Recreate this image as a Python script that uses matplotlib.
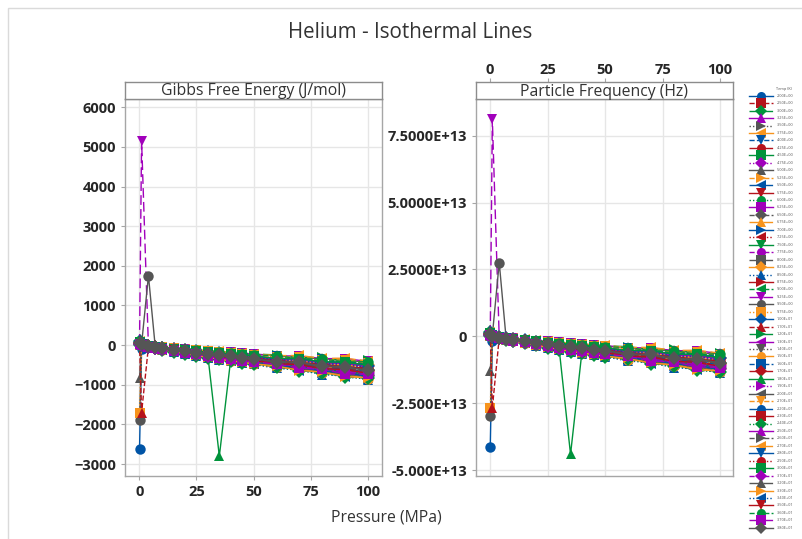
"""
Helium isothermal lines: Gibbs free energy and particle frequency vs pressure,
one line per temperature, two side-by-side panels with a shared x label.
"""

import matplotlib

matplotlib.use("Agg")
import matplotlib.pyplot as plt
from matplotlib.patches import Rectangle

plt.rcParams["font.family"] = ["Open Sans", "DejaVu Sans"]

W, H = 803, 539

# --------------------------------------------------------------------------- #
# Data
# --------------------------------------------------------------------------- #
PRESSURE = [0.1, 1, 4, 7, 10, 15, 20, 25, 30, 35, 40, 45, 50, 60, 70, 80, 90, 100]

TEMPS = [2.0, 2.5, 3.0, 3.25, 3.5, 3.75, 4.0, 4.25, 4.5, 4.75, 5.0, 5.25, 5.5,
         5.75, 6.0, 6.25, 6.5, 6.75, 7.0, 7.25, 7.5, 7.75, 8.0, 8.25, 8.5, 8.75,
         9.0, 9.25, 9.5, 9.75, 10.0, 11.0, 12.0, 13.0, 14.0, 15.0, 16.0, 17.0,
         18.0, 19.0, 20.0, 21.0, 22.0, 23.0, 24.0, 25.0, 26.0, 27.0, 28.0, 29.0,
         30.0, 31.0, 32.0, 33.0, 34.0, 35.0, 36.0, 37.0, 38.0]

# Gibbs free energy (J/mol), one row per temperature, columns follow PRESSURE
GIBBS = [
    [-2620, -100, -30, -60, -85, -130, -160, -210, -240, -280, -305, -350, -365, -440, -470, -570, -590, -680],
    [45, 20, -30, -55, -85, -120, -165, -195, -240, -265, -310, -325, -370, -380, -500, -500, -620, -610],
    [110, 35, -25, -55, -75, -115, -150, -190, -215, -255, -280, -320, -330, -420, -415, -530, -520, -630],
    [30, 10, -40, -65, -95, -140, -175, -225, -265, -300, -345, -370, -410, -430, -565, -560, -700, -670],
    [60, 25, -25, -50, -70, -100, -140, -165, -205, -225, -260, -280, -310, -375, -370, -490, -465, -580],
    [20, 5, -40, -75, -105, -155, -200, -255, -295, -345, -380, -425, -450, -500, -620, -650, -770, -780],
    [80, 30, -20, -45, -60, -95, -115, -150, -170, -200, -220, -250, -260, -330, -330, -410, -420, -490],
    [35, 15, -35, -60, -90, -130, -175, -210, -260, -285, -330, -355, -395, -465, -500, -590, -615, -700],
    [55, 20, -30, -50, -75, -110, -145, -180, -215, -240, -275, -300, -330, -360, -450, -470, -560, -565],
    [25, 10, -40, -70, -100, -145, -190, -235, -285, -315, -360, -395, -425, -525, -530, -665, -670, -780],
    [-830, 30, -20, -40, -55, -80, -105, -130, -155, -175, -200, -215, -240, -255, -330, -330, -410, -405],
    [50, 20, -30, -55, -80, -120, -160, -195, -230, -265, -295, -330, -350, -430, -445, -550, -555, -660],
    [15, 0, -45, -75, -110, -160, -215, -260, -315, -355, -400, -440, -475, -530, -650, -680, -810, -820],
    [70, 25, -25, -45, -65, -100, -125, -160, -185, -215, -240, -265, -285, -355, -360, -450, -450, -540],
    [40, 15, -35, -60, -90, -135, -175, -215, -255, -295, -330, -360, -390, -435, -540, -560, -670, -670],
    [90, 35, -15, -35, -50, -75, -100, -120, -145, -165, -185, -205, -220, -270, -275, -340, -340, -410],
    [25, 10, -35, -65, -95, -140, -185, -230, -270, -310, -345, -385, -415, -500, -525, -640, -660, -760],
    [60, 20, -30, -50, -75, -105, -140, -175, -205, -235, -265, -290, -315, -345, -435, -445, -535, -545],
    [20, 5, -40, -75, -105, -155, -205, -255, -300, -345, -385, -425, -460, -555, -585, -705, -730, -845],
    [50, 20, -30, -55, -80, -115, -155, -190, -225, -255, -290, -315, -340, -380, -470, -485, -580, -590],
    [75, 30, -20, -45, -60, -95, -120, -150, -175, -205, -225, -250, -270, -330, -340, -420, -425, -500],
    [20, 5, -40, -70, -100, -150, -195, -240, -290, -330, -365, -405, -435, -490, -595, -625, -740, -760],
    [45, 15, -35, -60, -85, -125, -165, -200, -240, -275, -305, -340, -365, -445, -460, -565, -580, -675],
    [65, 25, -25, -50, -70, -100, -135, -165, -195, -225, -250, -275, -295, -325, -410, -420, -510, -510],
    [10, 0, -45, -80, -115, -165, -220, -270, -320, -365, -410, -450, -485, -585, -625, -745, -775, -870],
    [55, 20, -30, -55, -75, -110, -150, -185, -220, -250, -280, -305, -330, -365, -455, -470, -565, -570],
    [85, 30, -20, -40, -60, -85, -115, -140, -165, -190, -210, -235, -250, -310, -320, -395, -395, -470],
    [35, 5150, -35, -65, -90, -135, -180, -220, -265, -300, -335, -370, -400, -440, -545, -570, -675, -690],
    [-1900, 20, 1750, -55, -80, -115, -155, -195, -230, -260, -290, -325, -345, -425, -440, -535, -555, -640],
    [-1700, 10, -40, -70, -105, -150, -200, -250, -295, -335, -375, -415, -450, -500, -610, -645, -755, -780],
    [70, 25, -25, -45, -65, -95, -125, -155, -185, -210, -235, -260, -280, -345, -350, -435, -440, -520],
    [40, -1700, -35, -60, -90, -130, -170, -210, -250, -285, -320, -355, -380, -460, -485, -585, -605, -700],
    [90, 35, -15, -35, -50, -75, -100, -125, -150, -170, -190, -210, -225, -245, -315, -310, -390, -385],
    [25, 10, -35, -65, -95, -145, -185, -235, -275, -315, -355, -390, -420, -510, -535, -640, -670, -770],
    [60, 20, -30, -50, -75, -110, -145, -175, -210, -240, -270, -295, -320, -350, -440, -455, -545, -550],
    [15, 0, -40, -75, -110, -160, -205, -255, -305, -350, -390, -430, -465, -560, -595, -710, -745, -850],
    [80, 30, -20, -40, -60, -90, -115, -145, -170, -195, -215, -240, -260, -285, -360, -360, -445, -440],
    [45, 20, -30, -55, -85, -120, -160, -200, -235, -270, -300, -335, -360, -435, -455, -550, -570, -660],
    [30, 10, -35, -65, -95, -140, -180, -225, -270, -2800, -345, -380, -410, -455, -560, -585, -690, -710],
    [60, 25, -25, -50, -70, -105, -140, -170, -205, -230, -260, -285, -310, -380, -385, -475, -485, -570],
    [20, 5, -40, -70, -105, -150, -200, -245, -290, -330, -370, -410, -440, -495, -605, -635, -745, -770],
    [85, 35, -20, -40, -55, -80, -110, -135, -160, -180, -200, -225, -240, -300, -300, -375, -375, -450],
    [40, 15, -35, -60, -85, -125, -170, -210, -250, -280, -315, -350, -375, -415, -515, -535, -635, -650],
    [55, 20, -30, -55, -80, -115, -150, -185, -220, -250, -280, -310, -335, -410, -425, -520, -530, -620],
    [10, 0, -45, -75, -110, -165, -215, -265, -320, -360, -405, -445, -480, -540, -655, -695, -810, -840],
    [65, 25, -25, -45, -70, -100, -130, -160, -190, -220, -245, -270, -290, -360, -365, -450, -460, -540],
    [35, 15, -35, -65, -90, -135, -175, -215, -260, -295, -330, -365, -390, -435, -540, -560, -665, -680],
    [95, 40, -15, -35, -50, -70, -95, -120, -140, -160, -180, -200, -215, -265, -260, -335, -330, -400],
    [20, 5, -40, -70, -100, -145, -195, -240, -285, -325, -360, -400, -430, -520, -550, -660, -690, -790],
    [55, 20, -30, -55, -75, -110, -150, -185, -220, -250, -280, -305, -330, -365, -455, -470, -565, -570],
    [75, 30, -25, -45, -65, -95, -120, -150, -180, -205, -230, -255, -275, -340, -345, -425, -430, -510],
    [30, 10, -35, -65, -95, -135, -180, -225, -265, -300, -340, -375, -405, -450, -555, -580, -680, -700],
    [50, 20, -30, -55, -80, -120, -160, -195, -235, -265, -295, -330, -355, -430, -445, -545, -560, -650],
    [15, 0, -40, -75, -110, -160, -210, -260, -310, -355, -395, -435, -470, -525, -640, -675, -795, -820],
    [65, 25, -25, -50, -70, -105, -135, -165, -200, -225, -255, -280, -300, -370, -380, -470, -475, -560],
    [40, 15, -35, -60, -90, -130, -175, -215, -255, -290, -325, -360, -385, -470, -490, -595, -615, -710],
    [85, 35, -20, -40, -55, -85, -110, -135, -165, -185, -205, -230, -245, -265, -345, -345, -425, -420],
    [25, 10, -40, -70, -100, -145, -190, -235, -280, -320, -355, -395, -425, -475, -580, -610, -720, -740],
    [50, 20, -30, -55, -80, -115, -155, -190, -225, -255, -285, -315, -340, -415, -430, -525, -540, -630],
]

# Particle frequency (Hz) = G / (N_A * hbar)  -- unit conversion of the same data
N_A = 6.02214076e23
HBAR = 1.054571817e-34

X_TICKS = [0, 25, 50, 75, 100]
GIBBS_TICKS = [-3000, -2000, -1000, 0, 1000, 2000, 3000, 4000, 5000, 6000]
FREQ_TICKS = [-5e13, -2.5e13, 0, 2.5e13, 5e13, 7.5e13]
FREQ_TICK_LABELS = ["-5.000E+13", "-2.500E+13", "0", "2.5000E+13", "5.0000E+13", "7.5000E+13"]

# --------------------------------------------------------------------------- #
# Styles (Minitab-like cycling)
# --------------------------------------------------------------------------- #
COLORS = ["#0054A6", "#B5121B", "#00933B", "#A100BB", "#555555", "#F7941D"]
MARKERS = ["o", "s", "D", "^", ">", "<", "v"]
LINESTYLES = ["-", "--", (0, (7, 3)), "-", (0, (1, 1.5))]
TXT = "#333333"
SPINE = "#A6A6A6"
GRID = "#E6E6E6"
TICK_FONT = dict(size=10.5, weight="bold")


def style(i):
    return dict(color=COLORS[i % 6], marker=MARKERS[i % 7], ls=LINESTYLES[i % 5],
                lw=1.0, ms=7.5, mew=0)


def px_axes(fig, x0, y0, x1, y1):
    return fig.add_axes([x0 / W, 1 - y1 / H, (x1 - x0) / W, (y1 - y0) / H])


def bold_labels(labels):
    for lab in labels:
        lab.set_fontsize(TICK_FONT["size"])
        lab.set_fontweight(TICK_FONT["weight"])
        lab.set_color("#262626")


def setup_panel(ax, ylim, yticks, xlim):
    ax.set_xlim(*xlim)
    ax.set_ylim(*ylim)
    ax.set_xticks(X_TICKS)
    ax.set_yticks(yticks)
    ax.grid(True, color=GRID, lw=1.0, zorder=0)
    ax.set_axisbelow(True)
    for s in ax.spines.values():
        s.set_color(SPINE)
        s.set_linewidth(1.0)
    ax.tick_params(colors=SPINE, length=3)


def strip(fig, x0, y0, x1, y1, text, xlim, top_ticks=False):
    sax = px_axes(fig, x0, y0, x1, y1)
    sax.set_xlim(*xlim)
    sax.set_yticks([])
    for s in sax.spines.values():
        s.set_color("#8C8C8C")
        s.set_linewidth(1.0)
    if top_ticks:
        sax.xaxis.tick_top()
        sax.set_xticks(X_TICKS)
        sax.tick_params(colors=SPINE, length=3, pad=1)
        bold_labels(sax.get_xticklabels())
    else:
        sax.set_xticks([])
    sax.text(0.5, 0.45, text, transform=sax.transAxes, ha="center", va="center",
             fontsize=11.3, color=TXT)
    return sax


def main():
    fig = plt.figure(figsize=(W / 100, H / 100), dpi=100)

    # light frame around the figure
    fig.patches.append(Rectangle((8 / W, -0.1), 1.2, 1 - 8 / H + 0.1, transform=fig.transFigure,
                                 fill=False, ec="#DADADA", lw=1.0))

    xlim_l = (-6.25, 106)
    xlim_r = (-6.1, 105.5)

    # ---- Gibbs panel ------------------------------------------------------- #
    ax1 = px_axes(fig, 125, 99.3, 381.7, 476)
    setup_panel(ax1, (-3300, 6200), GIBBS_TICKS, xlim_l)
    bold_labels(ax1.get_xticklabels() + ax1.get_yticklabels())
    for i, row in enumerate(GIBBS):
        ax1.plot(PRESSURE, row, **style(i))
    strip(fig, 125, 81.7, 381.7, 99.3, "Gibbs Free Energy (J/mol)", xlim_l)

    # ---- Frequency panel --------------------------------------------------- #
    ax2 = px_axes(fig, 476, 99.3, 732.7, 476)
    setup_panel(ax2, (-5.22e13, 8.86e13), FREQ_TICKS, xlim_r)
    ax2.set_yticklabels(FREQ_TICK_LABELS)
    bold_labels(ax2.get_yticklabels())
    ax2.tick_params(axis="x", labelbottom=False, length=0)
    for i, row in enumerate(GIBBS):
        ax2.plot(PRESSURE, [g / (N_A * HBAR) for g in row], **style(i))
    strip(fig, 476, 82.3, 732.7, 99.3, "Particle Frequency (Hz)", xlim_r, top_ticks=True)

    # ---- Titles ------------------------------------------------------------ #
    fig.text(410.5 / W, 1 - 32 / H, "Helium - Isothermal Lines", ha="center", va="center",
             fontsize=14.8, color=TXT)
    fig.text(386 / W, 1 - 517 / H, "Pressure (MPa)", ha="center", va="center",
             fontsize=11.3, color=TXT)

    # ---- Legend (drawn by hand to match the tight Minitab layout) ---------- #
    lax = fig.add_axes([0, 0, 1, 1])
    lax.set_xlim(0, W)
    lax.set_ylim(H, 0)
    lax.axis("off")
    lax.patch.set_alpha(0)
    lax.text(776, 89, "Temp (K)", fontsize=2.8, color="#555555", va="center")
    for i, t in enumerate(TEMPS):
        y = 95.7 + 7.45 * i
        st = style(i)
        lax.plot([749, 773], [y, y], color=st["color"], ls=st["ls"], lw=1.0)
        lax.plot([761], [y], color=st["color"], marker=st["marker"], ms=6.5, mew=0, ls="none")
        lax.text(777, y, f"{t:.2E}", fontsize=2.8, color="#555555", va="center")

    fig.savefig("out.png", dpi=100)
    plt.close(fig)


if __name__ == "__main__":
    main()
